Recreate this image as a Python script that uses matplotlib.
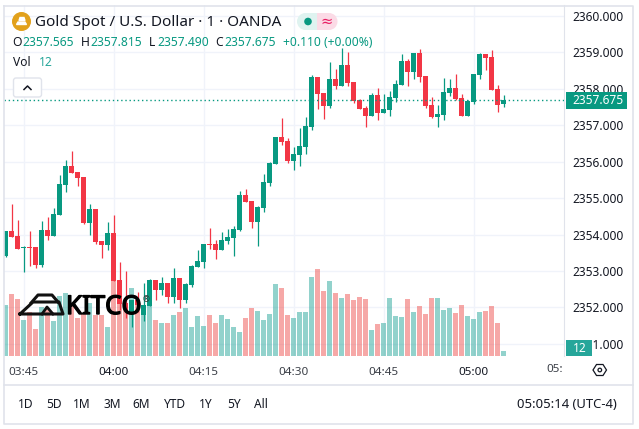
import matplotlib
matplotlib.use('Agg')
import matplotlib.pyplot as plt
import matplotlib.patheffects as pe
from matplotlib.patches import Circle, FancyBboxPatch, Rectangle, Polygon

plt.rcParams['font.family'] = ['Noto Sans', 'DejaVu Sans']

# Data: one minute candles
opens = [2353.41, 2354.10, 2353.96, 2353.63, 2353.66, 2353.66, 2353.16, 2354.12, 2353.96, 2354.53, 2355.36, 2355.88,
         2355.71, 2355.58, 2354.31, 2354.70, 2353.82, 2353.71, 2354.04, 2352.75, 2352.12, 2351.85, 2352.21, 2351.79,
         2352.04, 2352.75, 2352.48, 2352.67, 2352.29, 2352.81, 2352.21, 2352.62, 2353.11, 2353.25, 2353.74, 2353.74,
         2353.58, 2353.82, 2353.90, 2354.12, 2355.08, 2354.92, 2354.34, 2354.73, 2355.41, 2355.93, 2356.67, 2356.56,
         2356.01, 2356.18, 2356.40, 2356.95, 2358.31, 2357.88, 2357.52, 2358.26, 2358.07, 2358.64, 2358.18, 2357.69,
         2357.47, 2357.25, 2357.82, 2357.33, 2357.41, 2357.74, 2358.10, 2358.75, 2358.45, 2358.97, 2358.34, 2357.55,
         2357.22, 2357.27, 2357.88, 2358.01, 2357.74, 2357.25, 2357.63, 2358.37, 2358.95, 2358.86, 2357.99, 2357.565]
highs = [2354.10, 2354.84, 2354.40, 2353.68, 2354.10, 2353.66, 2354.37, 2354.48, 2354.73, 2355.63, 2356.04, 2356.29,
         2355.71, 2355.58, 2354.84, 2354.70, 2353.82, 2354.34, 2354.53, 2353.25, 2353.00, 2352.21, 2352.42, 2352.67,
         2352.78, 2352.75, 2352.83, 2352.67, 2353.08, 2352.81, 2352.67, 2353.16, 2353.58, 2353.74, 2354.18, 2353.85,
         2354.07, 2354.15, 2354.23, 2355.19, 2355.25, 2354.92, 2354.78, 2355.66, 2355.99, 2356.67, 2357.19, 2356.64,
         2356.40, 2356.92, 2357.22, 2358.37, 2358.31, 2357.88, 2358.73, 2358.53, 2359.11, 2359.00, 2358.18, 2357.71,
         2357.52, 2357.88, 2358.01, 2357.85, 2357.93, 2358.23, 2358.95, 2358.81, 2358.97, 2359.08, 2358.34, 2357.77,
         2357.55, 2358.29, 2358.26, 2358.40, 2357.85, 2357.69, 2358.40, 2358.97, 2358.95, 2359.06, 2358.10, 2357.815]
lows = [2353.38, 2353.93, 2353.60, 2352.97, 2353.14, 2353.08, 2353.11, 2353.85, 2353.96, 2354.53, 2355.16, 2355.68,
        2355.33, 2354.29, 2353.99, 2353.74, 2353.36, 2353.58, 2352.73, 2351.93, 2351.71, 2351.47, 2351.88, 2351.63,
        2352.04, 2352.21, 2352.34, 2352.12, 2352.12, 2351.99, 2352.12, 2352.56, 2353.11, 2353.08, 2353.60, 2353.33,
        2353.58, 2353.74, 2353.41, 2354.10, 2354.89, 2354.18, 2353.68, 2354.62, 2355.33, 2355.93, 2356.45, 2355.96,
        2355.77, 2355.88, 2356.21, 2356.86, 2357.44, 2357.16, 2357.47, 2357.99, 2358.07, 2358.07, 2357.60, 2357.44,
        2356.95, 2357.25, 2357.14, 2357.33, 2357.25, 2357.63, 2358.10, 2358.07, 2358.26, 2358.18, 2357.47, 2357.19,
        2356.95, 2357.14, 2357.79, 2357.69, 2357.25, 2357.25, 2357.58, 2358.26, 2358.51, 2357.96, 2357.36, 2357.49]
closes = [2354.10, 2353.93, 2353.60, 2353.66, 2353.63, 2353.16, 2354.12, 2353.96, 2354.56, 2355.38, 2355.88, 2355.68,
          2355.55, 2354.31, 2354.70, 2353.79, 2353.71, 2354.04, 2352.73, 2352.10, 2351.93, 2352.21, 2352.07, 2352.07,
          2352.75, 2352.48, 2352.67, 2352.29, 2352.81, 2352.21, 2352.64, 2353.14, 2353.27, 2353.74, 2353.71, 2353.58,
          2353.85, 2353.93, 2354.15, 2355.08, 2354.89, 2354.34, 2354.75, 2355.44, 2355.96, 2356.67, 2356.53, 2356.01,
          2356.21, 2356.42, 2356.97, 2358.31, 2357.85, 2357.52, 2358.26, 2358.07, 2358.64, 2358.15, 2357.66, 2357.44,
          2357.25, 2357.82, 2357.33, 2357.44, 2357.77, 2358.12, 2358.75, 2358.45, 2358.97, 2358.31, 2357.52, 2357.22,
          2357.30, 2357.90, 2358.01, 2357.71, 2357.25, 2357.66, 2358.40, 2358.95, 2358.84, 2357.96, 2357.55, 2357.675]
volumes = [122, 149, 137, 86, 106, 65, 118, 115, 84, 144, 151, 122, 91, 103, 127, 98, 98, 70, 180, 146, 124,
           163, 126, 122, 120, 86, 79, 79, 98, 106, 115, 70, 96, 72, 98, 79, 98, 89, 70, 58, 91, 115,
           108, 86, 101, 173, 163, 98, 91, 106, 106, 190, 209, 156, 180, 151, 139, 149, 134, 142, 137, 62,
           77, 79, 139, 96, 94, 137, 106, 120, 101, 139, 139, 110, 115, 103, 122, 96, 89, 106, 108, 120, 79, 12]

price_ticks = [2351, 2352, 2353, 2354, 2355, 2356, 2357, 2358, 2359, 2360]
time_ticks = [3, 18, 33, 48, 63, 78]
time_labels = ['03:45', '04:00', '04:15', '04:30', '04:45', '05:00']
range_labels = ['1D', '5D', '1M', '3M', '6M', 'YTD', '1Y', '5Y', 'All']
range_pos = [26, 54, 82, 112, 141, 175, 206, 234, 261]
last_price = 2357.675

UP = '#089981'
DOWN = '#F23645'
TEXT = '#131722'
GRID = '#f0f3fa'
BORDER = '#e0e3eb'
W, H = 639, 429

fig = plt.figure(figsize=(W / 100, H / 100), dpi=100, facecolor='white')
ax = fig.add_axes([4 / W, (H - 356) / H, 560 / W, 351 / H])
ax.set_xlim(-0.25, 93.083)
ax.set_ylim(2350.67, 2360.29)

xs = list(range(len(opens)))
colors = [UP if closes[i] >= opens[i] else DOWN for i in xs]
vol_colors = ['#26a69a' if closes[i] >= opens[i] else '#ef5350' for i in xs]

# Volume pane
vol = ax.twinx()
vol.set_ylim(0, 842)
vol.bar(xs, volumes, width=5 / 6, color=vol_colors, alpha=0.5, linewidth=0)
vol.axis('off')

# Candles
ax.set_zorder(vol.get_zorder() - 1)
ax.patch.set_visible(True)
vol.patch.set_visible(False)
candles = vol.inset_axes([0, 0, 1, 1], sharex=ax, sharey=ax)
candles.patch.set_visible(False)
candles.axis('off')
candles.vlines(xs, lows, highs, colors=colors, linewidth=0.9)
candles.bar(xs, [abs(closes[i] - opens[i]) for i in xs], bottom=[min(opens[i], closes[i]) for i in xs],
            width=5 / 6, color=colors, linewidth=0)
candles.axhline(last_price, color=UP, linewidth=1, linestyle=(0, (1, 2)))

# Axes and grid
ax.set_xticks(time_ticks)
ax.set_xticklabels(time_labels)
ax.set_yticks(price_ticks)
ax.yaxis.tick_right()
ax.set_yticklabels(['%.3f' % p for p in price_ticks])
ax.tick_params(axis='y', length=0, pad=6, labelsize=8.6, labelcolor=TEXT)
ax.tick_params(axis='x', length=0, pad=8, labelsize=8.4, labelcolor='#3c4048')
ax.grid(True, color=GRID, linewidth=1)
ax.set_axisbelow(True)
for s in ['top', 'left', 'bottom']:
    ax.spines[s].set_visible(False)
ax.spines['right'].set_color(BORDER)
ax.get_xticklabels()[1].set_color(TEXT)
ax.get_xticklabels()[5].set_color(TEXT)

# Overlay in pixel coordinates for the widget chrome
ui = fig.add_axes([0, 0, 1, 1], zorder=10)
ui.set_xlim(0, W)
ui.set_ylim(H, 0)
ui.axis('off')
ui.patch.set_visible(False)

ui.plot([3.5, 632.5, 632.5, 3.5, 3.5], [5.5, 5.5, 423.5, 423.5, 5.5], color=BORDER, lw=1.2)
ui.plot([3.5, 632.5], [384.5, 384.5], color=BORDER, lw=1.2)

# Header
ui.add_patch(Circle((21.5, 21.5), 8.8, color='#E2A11B'))
ui.add_patch(Polygon([[18, 22], [25, 22], [26.5, 24.5], [16.5, 24.5]], color='white'))
ui.add_patch(Polygon([[20, 17.5], [24, 17.5], [25, 20.5], [19, 20.5]], color='white'))
ui.text(35, 22, 'Gold Spot / U.S. Dollar · 1 · OANDA', fontsize=11, color=TEXT, va='center')

ohlc_labels = ['O', 'H', 'L', 'C']
ohlc_values = ['2357.565', '2357.815', '2357.490', '2357.675']
ohlc_x = [12, 81, 149, 215]
value_x = [22, 90, 157, 224]
for i in range(4):
    ui.text(ohlc_x[i], 43, ohlc_labels[i], fontsize=8.7, color=TEXT, va='center')
    ui.text(value_x[i], 43, ohlc_values[i], fontsize=8.7, color=UP, va='center')
ui.text(283, 43, '+0.110 (+0.00%)', fontsize=8.7, color=UP, va='center')
ui.text(13, 63, 'Vol', fontsize=8.7, color=TEXT, va='center')
ui.text(39, 63, '12', fontsize=8.7, color='#26a69a', va='center')

# Status pill
ui.add_patch(Circle((305.5, 21.5), 8.5, color='#dff3f0', lw=0))
ui.add_patch(Rectangle((305.5, 13), 11.5, 17, color='#dff3f0', lw=0))
ui.add_patch(Rectangle((317, 13), 12, 17, color='#fbdbe6', lw=0))
ui.add_patch(Circle((329, 21.5), 8.5, color='#fbdbe6', lw=0))
ui.add_patch(Circle((308, 21.5), 3.8, color=UP, lw=0))
ui.text(326.5, 21, '≈', fontsize=10.5, color='#e91e63', ha='center', va='center', family='DejaVu Sans')

# Collapse button
ui.add_patch(FancyBboxPatch((13.5, 78), 28, 19, boxstyle='round,pad=0,rounding_size=2.5', fc='white', ec=BORDER, lw=1))
ui.plot([24, 27.5, 31], [89.5, 86, 89.5], color=TEXT, lw=1.1)

# Kitco watermark
ui.plot([20, 33, 59, 63, 20], [314, 302, 302, 314, 314], color='#111111', lw=2.2)
ui.plot([31, 38, 52, 58], [303, 295, 295, 302], color='#111111', lw=2.2)
ui.plot([42, 47, 53], [314, 307, 314], color='#111111', lw=2)
ui.text(66, 307.5, 'KITCO', fontsize=18.6, color='#000000', va='center', ha='left',
        path_effects=[pe.withStroke(linewidth=1.0, foreground='#000000')])
ui.text(146.5, 299.5, '®', fontsize=6, color='#333333', ha='center', va='center')

# Price and volume labels
ui.add_patch(Rectangle((566, 92), 61, 17, color=UP, lw=0))
ui.text(598, 100.5, '2357.675', fontsize=8.6, color='white', fontweight='bold', ha='center', va='center')
ui.add_patch(Rectangle((566, 340), 26, 16, color='#26a69a', lw=0))
ui.text(579.5, 348, '12', fontsize=8.6, color='white', fontweight='bold', ha='center', va='center')
ui.text(563, 369, '05:', fontsize=8.4, color='#3c4048', ha='right', va='center')

# Settings hexagon
ui.add_patch(Polygon([[593, 370], [596.5, 364.5], [603, 364.5], [606.5, 370], [603, 375.5], [596.5, 375.5]],
                     fc='none', ec=TEXT, lw=0.9))
ui.add_patch(Circle((599.8, 370), 1.8, fc='none', ec=TEXT, lw=0.9))

# Range toolbar
for i in range(len(range_labels)):
    ui.text(range_pos[i], 404, range_labels[i], fontsize=8.6, color=TEXT, ha='center', va='center')
ui.text(617, 404, '05:05:14 (UTC-4)', fontsize=9.4, color=TEXT, ha='right', va='center')

fig.savefig('out.png', dpi=100)
